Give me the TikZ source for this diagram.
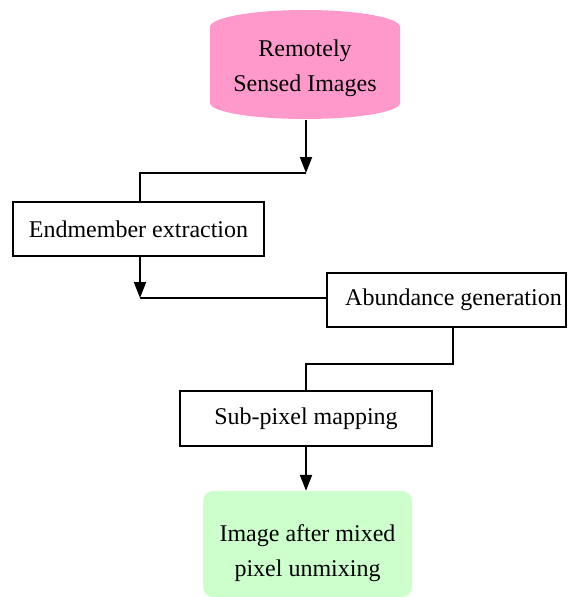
\documentclass[tikz,border=0pt]{standalone}
\usepackage{fontspec}
\setmainfont{Liberation Serif}
\usetikzlibrary{arrows.meta}
\definecolor{sourcepink}{HTML}{FF99CC}
\definecolor{resultgreen}{HTML}{CCFFCC}
\begin{document}
\begin{tikzpicture}[x=1pt,y=-1pt,
  every node/.style={font=\fontsize{24}{35}\selectfont, align=center, inner sep=0pt},
  stepbox/.style={draw, line width=1.2pt, fill=white},
  link/.style={line width=1.3pt},
  flow/.style={line width=2pt, -{Triangle[width=12pt,length=16pt]}}]
\useasboundingbox (0,0) rectangle (568,597);

% source data store (cylinder)
\fill[sourcepink] (210,27) -- (210,103)
  arc[start angle=180, end angle=360, x radius=95pt, y radius=16pt]
  -- (400,27)
  arc[start angle=0, end angle=180, x radius=95pt, y radius=17pt] -- cycle;
\node (rsi) [minimum width=190pt, minimum height=110pt] at (305,65) {};
\node (rsi-text) at (305,68) {Remotely\\Sensed Images};

% processing steps
\node (em) [stepbox, minimum width=251pt, minimum height=54pt] at (138.5,229) {Endmember extraction};
\node (ab) [stepbox, minimum width=239pt, minimum height=54pt] at (446.5,300) {\hspace*{14pt}Abundance generation};
\node (sp) [stepbox, minimum width=252pt, minimum height=55pt] at (306,418.5) {Sub-pixel mapping};

% result
\node (res) [fill=resultgreen, rounded corners=10pt, minimum width=209pt, minimum height=106pt] at (307.5,544) {};
\node (res-text) at (307.5,553) {Image after mixed\\pixel unmixing};

% junction points of the elbow connectors
\coordinate (j1) at (306,173);
\coordinate (j2) at (140,298);
\coordinate (j3) at (453,364);

% connectors
\draw[flow] (rsi.south -| j1) -- (j1);
\draw[link] (j1) -- (j1 -| j2) -- (em.north -| j2);
\draw[flow] (em.south -| j2) -- (j2);
\draw[link] (j2) -- (ab.west |- j2);
\draw[link] (ab.south -| j3) -- (j3) -- (j3 -| sp.north) -- (sp.north);
\draw[flow] (sp.south) -- (sp.south |- res.north);
\end{tikzpicture}
\end{document}
